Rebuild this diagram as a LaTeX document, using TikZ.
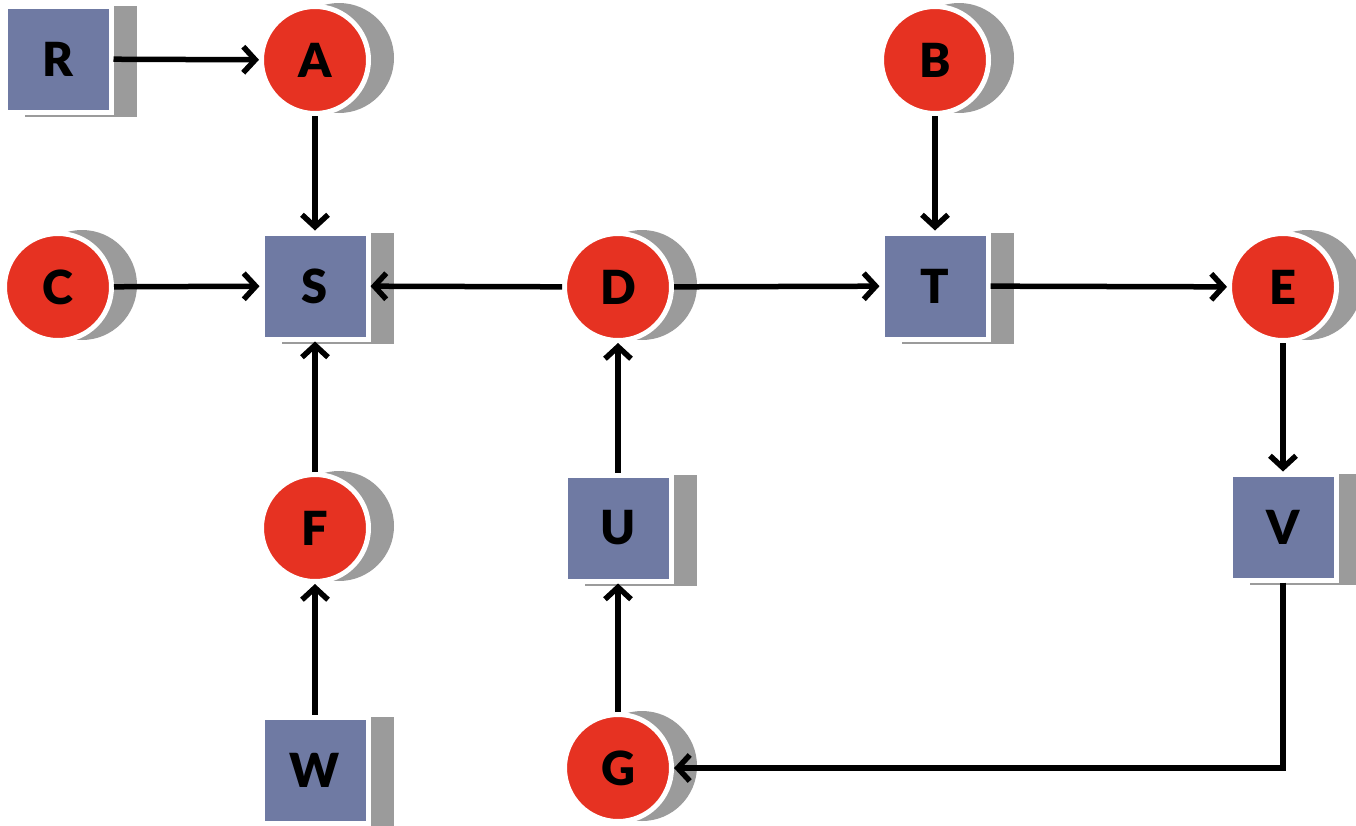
\documentclass[tikz,border=0pt]{standalone}
\usepackage{fontspec}
\setmainfont{Lato}[BoldFont={Lato Black}]
\usetikzlibrary{arrows.meta}
\definecolor{boxblue}{HTML}{6F7AA3}
\definecolor{dotred}{HTML}{E63222}
\definecolor{shadowgray}{HTML}{9B9B9B}
\tikzset{
  lbl/.style={font=\fontsize{47}{47}\selectfont\bfseries, text=black},
  sq/.style={lbl, fill=boxblue, draw=white, line width=5pt, minimum size=106pt, inner sep=0pt},
  dot/.style={lbl, circle, fill=dotred, draw=white, line width=5pt, minimum size=107pt, inner sep=0pt},
  link/.style={line width=5.5pt, -{Straight Barb[length=12pt,width=26pt]}}
}
\begin{document}
\begin{tikzpicture}[x=1pt,y=-1pt]
\useasboundingbox (0,0) rectangle (1356,825);
% drop shadows behind the boxes and discs
\foreach \x/\y in {58/59,315/286,935/286,618/528,1283/527,315/770}
  \fill[shadowgray] (\x-33,\y-53) rectangle (\x+79,\y+58);
\foreach \x/\y in {315/60,935/60,58/287,618/287,1283/287,315/528,618/768}
  \fill[shadowgray] (\x+24,\y-2) circle (55);
% boxes
\foreach \n/\x/\y in {R/58/59,S/315/286,T/935/286,U/618/528,V/1283/527,W/315/770}
  \node[sq] (\n) at (\x,\y) {\n};
% discs
\foreach \n/\x/\y in {A/315/60,B/935/60,C/58/287,D/618/287,E/1283/287,F/315/528,G/618/768}
  \node[dot] (\n) at (\x,\y) {\n};
% connectors
\draw[link] (R) -- (A);
\draw[link] (A) -- (S);
\draw[link] (C) -- (S);
\draw[link] (D) -- (S);
\draw[link] (D) -- (T);
\draw[link] (B) -- (T);
\draw[link] (T) -- (E);
\draw[link] (E) -- (V);
\draw[link] (F) -- (S);
\draw[link] (W) -- (F);
\draw[link] (U) -- (D);
\draw[link] (G) -- (U);
\draw[link] (V.south) |- (G.east);
\end{tikzpicture}
\end{document}
